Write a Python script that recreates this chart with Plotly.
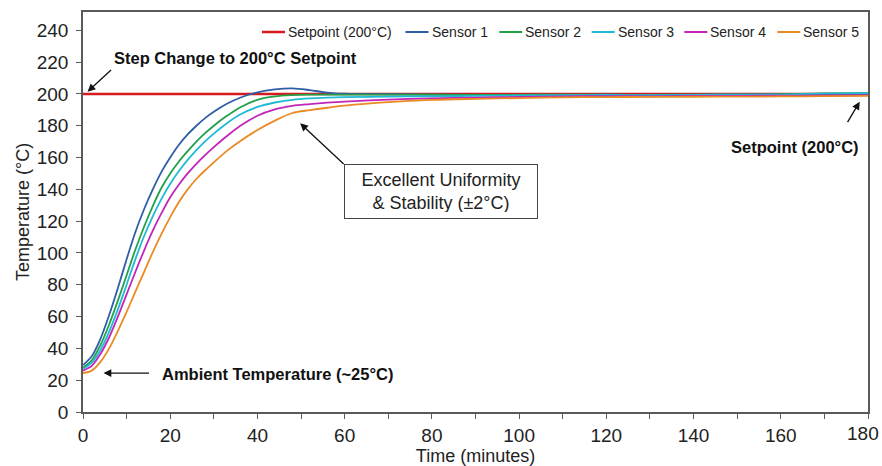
import plotly.graph_objects as go

time_min = [0, 2, 4, 6, 8, 10, 12, 14, 16, 18, 20, 22, 24, 26, 28, 30, 33, 36, 40, 44, 48, 52, 56, 60,
            70, 80, 90, 100, 110, 120, 130, 140, 150, 160, 170, 180]

sensor1 = [29.5, 35, 46, 61, 78, 96, 113, 127.5, 140, 151, 160, 168, 174.5, 180, 184.8, 188.8, 193.8, 197.6, 201.0, 202.9,
           203.5, 202.4, 200.8, 200.1, 199.8, 199.6, 199.4, 199.1, 199.3, 199.5, 199.2, 199.4, 199.6, 199.5, 199.7, 200.0]
sensor2 = [28, 32.5, 42, 55, 70, 86, 102, 116.5, 129.5, 141, 150, 157.5, 164, 170, 175.3, 180, 186.2, 191.5, 196.3, 198.4,
           199.2, 199.5, 199.6, 199.6, 199.6, 199.5, 199.3, 199.4, 199.6, 199.5, 199.4, 199.6, 199.5, 199.8, 200.3, 200.5]
sensor3 = [27, 31, 39, 50.5, 64.5, 80, 96, 110.5, 123, 134, 143.5, 151.5, 158.5, 164.7, 170.2, 175, 181.5, 187, 191.8, 194.6,
           196.3, 197.2, 197.7, 198.0, 198.3, 198.5, 198.8, 199.0, 199.2, 199.3, 199.2, 199.4, 199.5, 199.6, 200.2, 200.4]
sensor4 = [26, 29, 36.5, 47, 60, 74, 88, 101.5, 114, 125, 135, 143, 150, 156, 161.5, 166.5, 173.5, 179.8, 186.3, 190.3,
           192.5, 193.6, 194.5, 195.2, 196.4, 197.2, 197.7, 198.1, 198.4, 198.6, 198.5, 198.7, 198.8, 198.9, 199.0, 199.2]
sensor5 = [24.5, 26, 31.5, 40, 51, 63, 75.5, 88, 100.5, 112, 122.5, 132, 140, 146.5, 152, 157, 164.2, 170.3, 177.3, 183.2,
           188.0, 189.8, 191.3, 192.6, 194.8, 196.2, 196.9, 197.4, 197.8, 198.0, 198.1, 198.2, 198.3, 198.4, 198.6, 198.8]

setpoint_time = [0, 180]
setpoint_value = [200, 200]

x_tick_vals = [0, 20, 40, 60, 80, 100, 120, 140, 160, 180]
legend_names = ["Setpoint (200°C)", "Sensor 1", "Sensor 2", "Sensor 3", "Sensor 4", "Sensor 5"]
series_values = [sensor1, sensor2, sensor3, sensor4, sensor5]
colors = ["#d71a1f", "#2f5ea8", "#22a04a", "#1fbad6", "#c226b9", "#ea8a22"]

FONT = "Liberation Sans, Arial, sans-serif"

# layout geometry (pixels)
W, H = 882, 466
ML, MR, MT, MB = 83, 14, 12, 54
PW, PH = W - ML - MR, H - MT - MB

fig = go.Figure()
fig.add_trace(go.Scatter(x=setpoint_time, y=setpoint_value, mode="lines", name=legend_names[0],
                         showlegend=False, line=dict(color=colors[0], width=2.5)))
for name, vals, col in zip(legend_names[1:], series_values, colors[1:]):
    fig.add_trace(go.Scatter(x=time_min, y=vals, mode="lines", name=name, showlegend=False,
                             line=dict(color=col, width=1.8, shape="spline", smoothing=0.9)))

axis_common = dict(showline=True, linecolor="#5a5a5a", linewidth=1.5, mirror=True, showgrid=False,
                   zeroline=False, ticks="outside", ticklen=5, tickcolor="#5a5a5a", automargin=False,
                   tickfont=dict(family=FONT, size=19, color="#222"))

# last x tick label is placed as an annotation so it stays inside the page edge
x_tick_text = [str(v) for v in x_tick_vals[:-1]] + [""]
fig.update_xaxes(range=[0, 180], tickmode="array", tickvals=x_tick_vals, ticktext=x_tick_text,
                 minor=dict(ticks="outside", dtick=10, ticklen=5, tickcolor="#5a5a5a", showgrid=False),
                 title=dict(text="Time (minutes)", font=dict(family=FONT, size=18, color="#222"), standoff=2),
                 **axis_common)
fig.update_yaxes(range=[0, 251.5], dtick=20, tick0=0, ticklabelstandoff=4,
                 title=dict(text="Temperature (°C)", font=dict(family=FONT, size=18, color="#222"), standoff=2),
                 **axis_common)

arrow = dict(showarrow=True, arrowhead=2, arrowsize=1.2, arrowwidth=1.3, arrowcolor="#111")
annotations = [
    dict(x=34.9, y=222.6, text="<b>Step Change to 200°C Setpoint</b>", showarrow=False,
         font=dict(family=FONT, size=16.5, color="#111")),
    dict(x=1.05, y=201.4, ax=25, ay=-23, text="", **arrow),
    dict(x=44.5, y=24.2, text="<b>Ambient Temperature (~25°C)</b>", showarrow=False,
         font=dict(family=FONT, size=16.5, color="#111")),
    dict(x=4.7, y=24.5, ax=47, ay=0, text="", **arrow),
    dict(x=82.2, y=138.4, text="Excellent Uniformity<br>& Stability (±2°C)", showarrow=False,
         font=dict(family=FONT, size=18, color="#222"), bgcolor="white", bordercolor="#444",
         borderwidth=1, borderpad=6, width=180, height=41),
    dict(x=49.8, y=181.5, ax=45, ay=42, text="", **arrow),
    dict(x=163.2, y=166.6, text="<b>Setpoint (200°C)</b>", showarrow=False,
         font=dict(family=FONT, size=16.5, color="#111")),
    dict(x=178.1, y=195.1, ax=-13, ay=22, text="", **arrow),
    dict(xref="x", yref="paper", x=x_tick_vals[-1], y=(0 - 21) / PH, xanchor="right", yanchor="middle",
         xshift=13, text=str(x_tick_vals[-1]), showarrow=False,
         font=dict(family=FONT, size=19, color="#222")),
]

# manual legend (entry start positions in pixels, matching the reference layout)
legend_start_px = [262, 405.5, 499.3, 591.7, 684.3, 777.3]
legend_line_len = 23
legend_y_px = 32
shapes = []
ly = (H - MB - legend_y_px) / PH
for name, col, sx in zip(legend_names, colors, legend_start_px):
    x0 = (sx - ML) / PW
    x1 = (sx + legend_line_len - ML) / PW
    shapes.append(dict(type="line", xref="paper", yref="paper", x0=x0, x1=x1, y0=ly, y1=ly,
                       line=dict(color=col, width=2.5 if name.startswith("Setpoint") else 2)))
    annotations.append(dict(xref="paper", yref="paper", x=x1, y=ly, xanchor="left", yanchor="middle",
                            xshift=1, text=name, showarrow=False,
                            font=dict(family=FONT, size=14, color="#222")))

fig.update_layout(
    width=W, height=H,
    margin=dict(l=ML, r=MR, t=MT, b=MB, autoexpand=False),
    paper_bgcolor="white", plot_bgcolor="white",
    font=dict(family=FONT, color="#222"),
    showlegend=False,
    annotations=annotations,
    shapes=shapes,
)

fig.write_html("out.html", config={"displayModeBar": False},
               post_script="document.body.style.margin='0px';")
